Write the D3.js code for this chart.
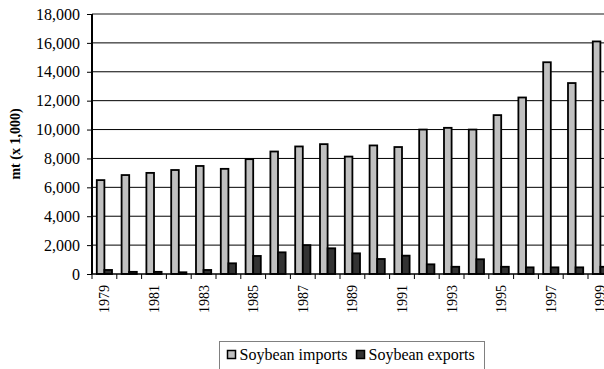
<!DOCTYPE html>
<html>
<head>
<meta charset="utf-8">
<script src="https://cdnjs.cloudflare.com/ajax/libs/d3/7.8.5/d3.min.js"></script>
<style>
  html, body { margin: 0; padding: 0; background: #fff; overflow: hidden; }
  text { font-family: "Liberation Serif", "Times New Roman", serif; fill: #000; }
</style>
</head>
<body>
<div id="chart"></div>
<script>
var years = ["1979","1980","1981","1982","1983","1984","1985","1986","1987","1988","1989",
             "1990","1991","1992","1993","1994","1995","1996","1997","1998","1999"];
var imports = [6500, 6850, 7000, 7200, 7480, 7280, 7950, 8480, 8830, 8990, 8130,
               8900, 8790, 10000, 10120, 10000, 11000, 12220, 14660, 13220, 16100];
var exports = [280, 150, 150, 120, 280, 740, 1250, 1500, 2000, 1780, 1430,
               1040, 1270, 670, 500, 1020, 500, 460, 460, 460, 500];
var seriesNames = ["Soybean imports", "Soybean exports"];
var seriesColors = ["#c0c0c0", "#333333"];
var yTicks = [0, 2000, 4000, 6000, 8000, 10000, 12000, 14000, 16000, 18000];

var W = 604, H = 369;
var plotLeft = 92, plotTop = 14, plotBottom = 274, step = 24.8;

var svg = d3.select("#chart").append("svg")
    .attr("width", W)
    .attr("height", H);

var x = d3.scaleBand()
    .domain(years)
    .range([plotLeft, plotLeft + step * years.length]);

var xs = d3.scaleBand()
    .domain(seriesNames)
    .range([0, x.bandwidth()])
    .paddingOuter(0.63);

var y = d3.scaleLinear()
    .domain([0, 18000])
    .range([plotBottom, plotTop]);

var fmt = d3.format(",");

// gridlines
svg.append("g")
  .selectAll("line")
  .data(yTicks.slice(1, -1))
  .enter().append("line")
    .attr("x1", plotLeft).attr("x2", x.range()[1])
    .attr("y1", d => y(d)).attr("y2", d => y(d))
    .style("stroke", "#000")
    .style("stroke-width", 1);

// plot area top border
svg.append("line")
    .attr("x1", plotLeft).attr("x2", x.range()[1])
    .attr("y1", y(18000)).attr("y2", y(18000))
    .style("stroke", "#8c8c8c")
    .style("stroke-width", 2);

// bars
var data = [imports, exports];
data.forEach(function(vals, si){
  svg.append("g")
    .selectAll("rect")
    .data(vals)
    .enter().append("rect")
      .attr("x", (d, i) => x(years[i]) + xs(seriesNames[si]))
      .attr("width", xs.bandwidth())
      .attr("y", d => y(d))
      .attr("height", d => y(0) - y(d))
      .attr("fill", seriesColors[si])
      .style("stroke", "#000")
      .style("stroke-width", 1.8);
});

// y axis
var yAxis = svg.append("g")
    .attr("transform", "translate(" + plotLeft + ",0)")
    .call(d3.axisLeft(y).tickValues(yTicks).tickFormat(fmt).tickSize(5).tickPadding(7));
yAxis.select(".domain").attr("d", "M0," + y(18000) + "V" + y(0))
    .style("stroke", "#000").style("stroke-width", 2);
yAxis.selectAll("text")
    .style("font-family", "Liberation Serif, serif")
    .style("font-size", "16px");

// x axis
var xAxis = svg.append("g")
    .attr("transform", "translate(0," + plotBottom + ")");
xAxis.append("line")
    .attr("x1", plotLeft).attr("x2", x.range()[1])
    .attr("y1", 0).attr("y2", 0)
    .style("stroke", "#000").style("stroke-width", 1.5);
xAxis.selectAll("line.tick")
  .data(d3.range(years.length + 1))
  .enter().append("line")
    .attr("class", "tick")
    .attr("x1", i => plotLeft + i * x.step()).attr("x2", i => plotLeft + i * x.step())
    .attr("y1", 0).attr("y2", 5)
    .style("stroke", "#000").style("stroke-width", 1);
xAxis.selectAll("text")
  .data(years.filter((d, i) => i % 2 === 0))
  .enter().append("text")
    .attr("transform", d => "translate(" + (x(d) + x.bandwidth() / 2) + ",11) rotate(-90)")
    .attr("text-anchor", "end")
    .attr("dy", "0.35em")
    .style("font-size", "14px")
    .text(d => d);

// y axis title
svg.append("text")
    .attr("transform", "translate(15," + ((plotTop + plotBottom) / 2) + ") rotate(-90)")
    .attr("text-anchor", "middle")
    .attr("dy", "0.35em")
    .style("font-size", "14px")
    .style("font-weight", "bold")
    .text("mt (x 1,000)");

// legend
var legend = svg.append("g").attr("transform", "translate(219.5,341.5)");
legend.append("rect")
    .attr("width", 265).attr("height", 40)
    .attr("fill", "#fff")
    .style("stroke", "#808080").style("stroke-width", 1);
var lx = [8, 137];
seriesNames.forEach(function(name, i){
  legend.append("rect")
    .attr("x", lx[i]).attr("y", 9)
    .attr("width", 8).attr("height", 8)
    .attr("fill", seriesColors[i])
    .style("stroke", "#000").style("stroke-width", 1.5);
  legend.append("text")
    .attr("x", lx[i] + 12).attr("y", 18.5)
    .style("font-size", "16px")
    .text(name);
});
</script>
</body>
</html>
